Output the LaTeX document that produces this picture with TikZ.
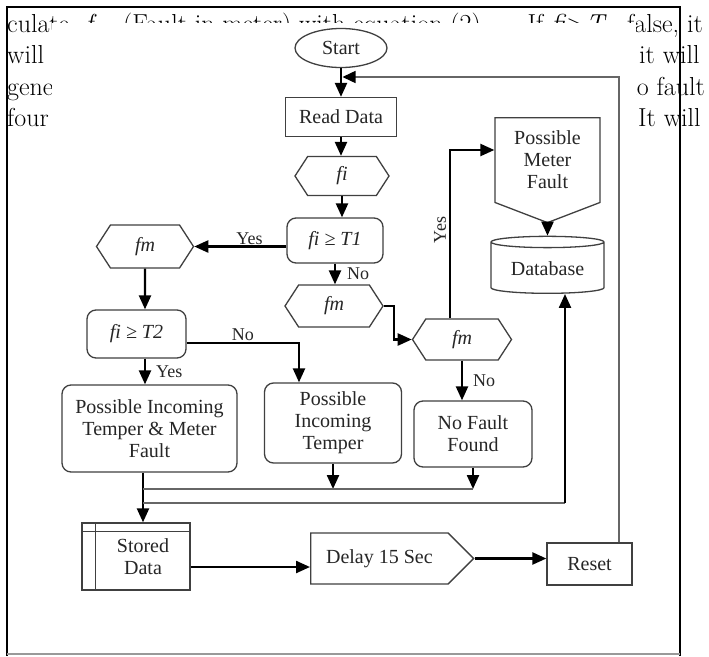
\documentclass[tikz,border=0pt]{standalone}
\usepackage{fontspec}
\newfontfamily\chartfont{Liberation Serif}
\usetikzlibrary{arrows.meta,shapes.geometric,shapes.symbols}

\begin{document}
\begin{tikzpicture}[x=1pt,y=-1pt,
  base/.style={draw=black!75,line width=1.3pt,text=black!85,align=center,inner sep=1pt,
    font=\chartfont\fontsize{20}{22}\selectfont},
  proc/.style={base,rectangle},
  cond/.style={base,rounded corners=9pt},
  hexa/.style={base,signal,signal to=east and west,signal from=nowhere,
    signal pointer angle=114,font=\chartfont\itshape\fontsize{20}{22}\selectfont},
  flow/.style={line width=2.3pt,-{Triangle[length=14pt,width=12pt]}},
  bus/.style={draw=black!60,line width=1.4pt},
  lab/.style={font=\chartfont\fontsize{18}{20}\selectfont,text=black!85,inner sep=1pt},
  page/.style={font=\fontsize{26}{30}\selectfont,anchor=base west,inner sep=0pt}]

\useasboundingbox (0,0) rectangle (709,656);

% page text round the figure
\node[page] (l1a) at (7,32) {culate};
\node[page] (l1b) at (85,32) {\textit{f}};
\node[page] (l1c) at (123,32) {(Fault in meter) with equation (2).};
\node[page,anchor=base east] (l1d) at (607,32) {If \textit{fi}>\textit{T}};
\node[page] (l1e) at (627,32) {false, it};
\node[page] (l2a) at (7,63.5) {will};
\node[page] (l2b) at (639,63.5) {it will};
\node[page] (l3a) at (7,95) {gene};
\node[page,anchor=base east] (l3b) at (705,95) {no fault};
\node[page] (l4a) at (7,126.5) {four};
\node[page] (l4b) at (638,126.5) {It will};
\fill[white] (52,23) rectangle (636,656);

\node[base,ellipse,minimum width=92pt,minimum height=39pt,inner sep=0pt] (start) at (341,48) {Start};
\node[proc,minimum width=111pt,minimum height=39pt] (read) at (341,117) {Read Data};
\node[hexa,minimum width=94pt,minimum height=39pt] (fi) at (342,176) {fi};
\node[cond,minimum width=96pt,minimum height=45pt] (t1) at (335,240.5) {\itshape fi ≥ T1};
\node[hexa,minimum width=97pt,minimum height=43pt] (fmA) at (145,246.5) {fm};
\node[cond,minimum width=99pt,minimum height=48pt] (t2) at (136.5,334) {\itshape fi ≥ T2};
\node[hexa,minimum width=98pt,minimum height=42pt] (fmB) at (334,306) {fm};
\node[hexa,minimum width=99pt,minimum height=41pt] (fmC) at (462,339.5) {fm};
\node[cond,minimum width=175pt,minimum height=87pt] (both) at (149.5,428.5) {Possible Incoming\\Temper \& Meter\\Fault};
\node[cond,minimum width=137pt,minimum height=80pt] (temper) at (333,423) {Possible\\Incoming\\Temper};
\node[cond,minimum width=118pt,minimum height=66pt] (nofault) at (473,434) {No Fault\\Found};
\node[base,signal,signal to=south,signal from=nowhere,signal pointer angle=138,
  minimum width=105pt,minimum height=98pt,anchor=north] (meter) at (547.5,117) {Possible\\Meter\\Fault};
\node[base,cylinder,shape border rotate=90,aspect=0.15,minimum width=113pt,minimum height=57pt] (db) at (547.5,268.5) {Database};
\node[proc,minimum width=108pt,minimum height=67pt] (stored) at (136,556.5) {\hspace*{14pt}Stored\\\hspace*{14pt}Data};
\draw[black!75,line width=1.3pt] ([xshift=14pt]stored.north west) -- ([xshift=14pt]stored.south west)
  ([yshift=-9pt]stored.north west) -- ([yshift=-9pt]stored.north east);
\node[base,signal,signal to=east,signal from=nowhere,signal pointer angle=90,
  minimum width=163pt,minimum height=51pt,anchor=west] (delay) at (310,558.5) {Delay 15 Sec};
\node[proc,minimum width=85pt,minimum height=42pt] (reset) at (589.5,564) {Reset};

\coordinate (join) at (342.5,77);
\coordinate (pitin) at (299,343);
\coordinate (upin) at (450,150);
\coordinate (busA) at (143,489);
\coordinate (busB) at (143,503);
\coordinate (dbin) at (565,503);
\coordinate (dlin) at (190,567);

\draw[flow] (start) -- (read);
\draw[flow] (read) -- (read |- fi.north);
\draw[flow] (fi.south) -- (fi.south |- t1.north);
\draw[flow] (t1.west |- fmA) -- node[lab,above,pos=0.4] (yes1) {Yes} (fmA.east);
\draw[flow] (fmA) -- (fmA |- t2.north);
\draw[flow] (t2.south -| fmA) -- node[lab,right=9pt] (yes2) {Yes} (both.north -| fmA);
\draw[flow] (t2.east |- pitin) -- node[lab,above] (no2) {No} (pitin) -- (pitin |- temper.north);
\draw[flow] (t1) -- node[lab,right=10pt] (no1) {No} (t1 |- fmB.north);
\draw[flow] (fmB.east) -- ++(10,0) |- (fmC.west);
\draw[flow] ([xshift=-12pt]fmC.north) |- (meter.west |- upin);
\node[lab,rotate=90] (yes3) at (440,230) {Yes};
\draw[flow] (meter.south) -- (db.north);
\draw[flow] (fmC.south) -- node[lab,right=9pt] (no3) {No} (fmC.south |- nofault.north);
\draw[flow] (both.south -| busA) -- (stored.north -| busA);
\draw[flow] (temper) -- (temper |- busA);
\draw[flow] (nofault) -- (nofault |- busA);
\draw[bus] (busA) -- (nofault |- busA);
\draw[bus] (busB) -- (dbin);
\draw[flow] (dbin) -- (db.south -| dbin);
\draw[flow] (stored.east |- dlin) -- (delay.west |- dlin);
\draw[flow] (delay.east) -- (reset.west |- delay.east);
\draw[bus,-{Triangle[length=13pt,width=12pt,color=black]}] ([xshift=29.5pt]reset.north) |- (join);

% frame
\draw[line width=2.4pt] (7,656) -- (7,7) -- (680,7) -- (680,656);
\draw[black!40,line width=1.4pt] (7,654) -- (680,654);
\end{tikzpicture}
\end{document}
